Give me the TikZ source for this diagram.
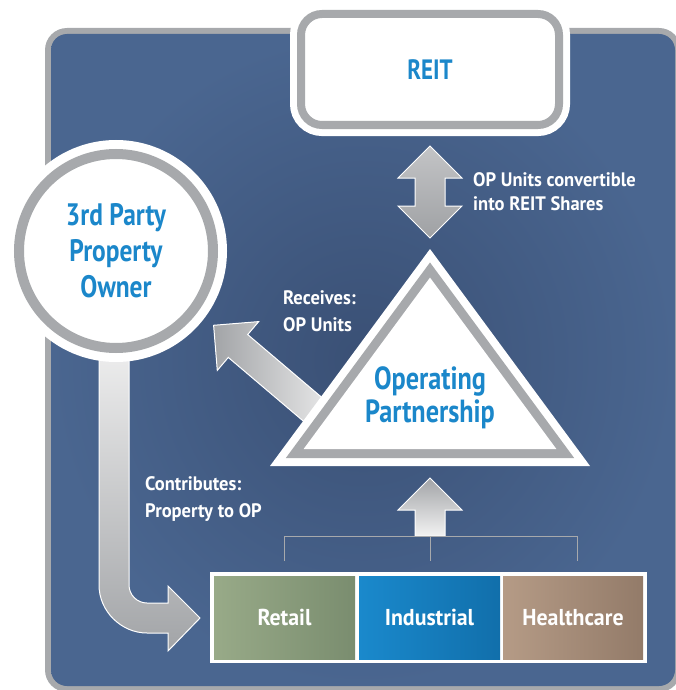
\documentclass[tikz,border=0pt]{standalone}
\usepackage{fontspec}
\setmainfont{PT Sans}[FakeStretch=0.82]
\newfontfamily\captionfont{PT Sans}[FakeStretch=0.95]
\usetikzlibrary{calc}

\definecolor{ringgray}{HTML}{A7A9AC}
\definecolor{bgin}{HTML}{3A5075}
\definecolor{bgout}{HTML}{4A6690}
\definecolor{titleblue}{HTML}{1B87CA}
\definecolor{arrowdark}{HTML}{A2A4A7}
\definecolor{arrowlight}{HTML}{F2F2F2}
\definecolor{extop}{HTML}{C3C4C6}
\definecolor{exmid}{HTML}{ECECED}
\definecolor{exbot}{HTML}{9FA1A4}
\definecolor{retailL}{HTML}{98AA88}
\definecolor{retailR}{HTML}{7A8D6F}
\definecolor{induL}{HTML}{1A89CC}
\definecolor{induR}{HTML}{116FAB}
\definecolor{healthL}{HTML}{B59B86}
\definecolor{healthR}{HTML}{937B69}

% straight block arrow: #1 style, #2 tail, #3 tip
\newcommand\blockarrow[3]{%
  \coordinate (ba-base) at ($(#3)!32pt!(#2)$);
  \path[#1] ($(#2)!15pt!-90:(#3)$) -- ($(ba-base)!15pt!90:(#2)$)
    -- ($(ba-base)!32pt!90:(#2)$) -- (#3) -- ($(ba-base)!32pt!-90:(#2)$)
    -- ($(ba-base)!15pt!-90:(#2)$) -- ($(#2)!15pt!90:(#3)$) -- cycle;
}

\begin{document}
\begin{tikzpicture}[x=1pt,y=-1pt,
  flow/.style={draw=white, line width=1pt, line join=miter},
  title/.style={text=titleblue, align=center, inner sep=0pt,
    font=\bfseries\fontsize{31}{36}\selectfont},
  note/.style={text=white, align=left, anchor=west, inner sep=0pt,
    font=\captionfont\bfseries\fontsize{19.5}{27}\selectfont},
  segment/.style={minimum height=83pt, inner sep=0pt, text=white,
    font=\captionfont\bfseries\fontsize{23}{26}\selectfont}]
\useasboundingbox (0,0) rectangle (676,690);

% framed panel
\fill[ringgray, rounded corners=22pt] (45,28) rectangle (681,692);
\path[inner color=bgin, outer color=bgout, rounded corners=16pt]
  (51,34) rectangle (675,686);

% contribution arrow running down from the owner and bending right
\path[flow, top color=arrowlight, bottom color=arrowdark]
  (99,330) -- (99,585) .. controls (99,611.5) and (121.5,633) .. (147,633)
  -- (168,633) -- (168,651) -- (200,618) -- (168,586) -- (168,603)
  -- (147,603) .. controls (137.1,603) and (129,594.9) .. (129,585)
  -- (129,330) -- cycle;

% third party owner
\node[circle, minimum size=194pt, inner sep=0pt, fill=white,
  draw=ringgray, line width=10pt, preaction={draw=white, line width=28pt}]
  (owner) at (116,251) {};
\node[title] (ownertxt) at (owner) {3rd Party\\Property\\Owner};

% OP units going back to the owner
\coordinate (recv-tail) at (337,430);
\coordinate (recv-tip) at (213.6,325.3);
\blockarrow{flow, left color=arrowdark, right color=arrowlight}{recv-tail}{recv-tip}

% operating partnership triangle
\coordinate (opA) at (430,249);
\coordinate (opL) at (270,466);
\coordinate (opR) at (590,466);
\coordinate (opI) at (430,385.2);
\fill[white] (opA) -- (opL) -- (opR) -- cycle;
\fill[ringgray] ($(opI)!0.901!(opA)$) -- ($(opI)!0.901!(opL)$) -- ($(opI)!0.901!(opR)$) -- cycle;
\fill[white] ($(opI)!0.79!(opA)$) -- ($(opI)!0.79!(opL)$) -- ($(opI)!0.79!(opR)$) -- cycle;
\node[title, font=\bfseries\fontsize{32}{33}\selectfont] (op) at (430,397.5) {Operating\\Partnership};

% REIT
\node[draw=ringgray, line width=8pt, fill=white, rounded corners=21pt,
  minimum width=258pt, minimum height=111pt, inner sep=0pt,
  preaction={draw=white, line width=22pt}, text=titleblue,
  font=\bfseries\fontsize{28}{32}\selectfont] (reit) at (430,69.5) {REIT};

% exchange arrow between REIT and OP
\coordinate (ex-top) at (430,146);
\coordinate (ex-bot) at (430,238);
\path[flow, top color=extop, middle color=exmid, bottom color=exbot]
  (ex-top) -- ++(32,32) -- ++(-17,0) -- ($(ex-bot)+(15,-32)$) -- ++(17,0)
  -- (ex-bot) -- ++(-32,-32) -- ++(17,0) -- ($(ex-top)+(-15,32)$) -- ++(-17,0) -- cycle;

% property segments feeding the OP
\coordinate (up-tail) at (430,536);
\coordinate (up-tip) at (430,478);
\blockarrow{flow, top color=arrowdark, bottom color=arrowlight}{up-tail}{up-tip}
\draw[ringgray, line width=1pt] (284,561) -- (284,536) -- (577,536) -- (577,561);
\draw[ringgray, line width=1pt] (up-tail) -- (430,561);

\fill[white] (210,572) rectangle (647,663);
\node[segment, minimum width=141pt, left color=retailL, right color=retailR]
  (retail) at (284.5,617.5) {Retail};
\node[segment, minimum width=141pt, left color=induL, right color=induR]
  (industrial) at (429.5,617.5) {Industrial};
\node[segment, minimum width=140pt, left color=healthL, right color=healthR]
  (healthcare) at (573,617.5) {Healthcare};

% captions
\node[note, font=\captionfont\bfseries\fontsize{19.5}{24}\selectfont] (exnote) at (473,192) {OP Units convertible\\into REIT Shares};
\node[note] (recvnote) at (283,311.5) {Receives:\\OP Units};
\node[note] (contnote) at (145,499) {Contributes:\\Property to OP};
\end{tikzpicture}
\end{document}
